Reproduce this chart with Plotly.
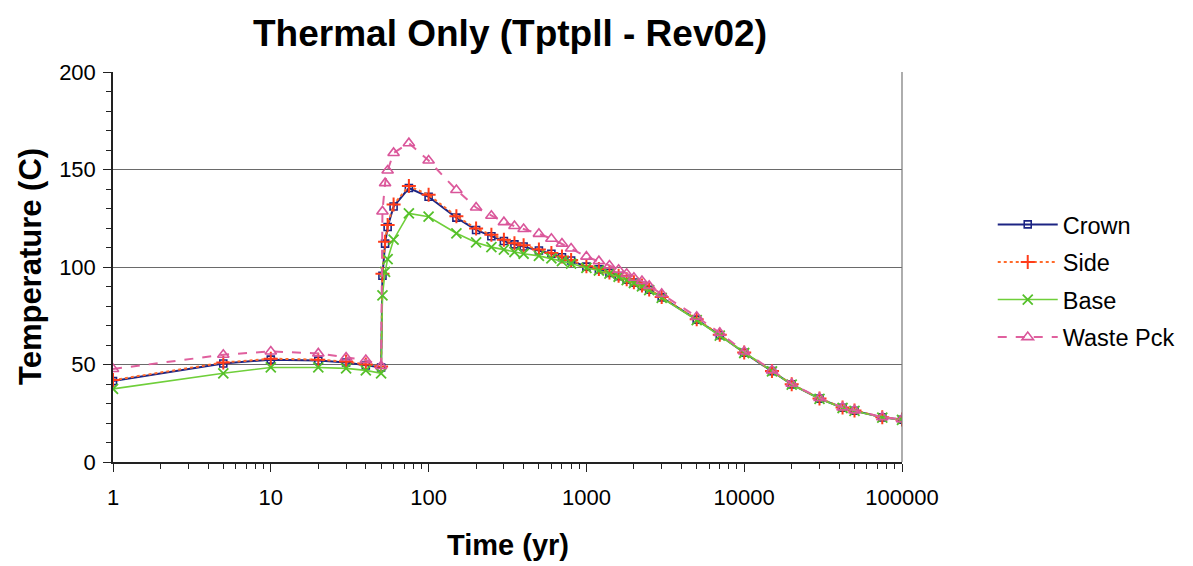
import plotly.graph_objects as go

time_yr = [1, 5, 10, 20, 30, 40, 50, 51, 53, 55, 60, 75, 100, 150, 200, 250, 300, 350, 400,
           500, 600, 700, 800, 1000, 1200, 1400, 1600, 1800, 2000, 2250, 2500, 3000, 5000, 7000,
           10000, 15000, 20000, 30000, 42000, 50000, 75000, 100000]

crown = [41.5, 50.5, 52.5, 52, 51, 49.5, 48.5, 95.5, 112, 120.5, 131, 140.5, 136, 125.3, 119, 115.8,
         113.3, 111.6, 110.5, 108.5, 106.8, 105, 103.3, 100.2, 98.8, 97, 95.3, 93.5, 92, 90.3, 88.3,
         84.4, 73, 65, 56, 46.6, 39.8, 32.5, 27.8, 26.3, 22.9, 21.7]

side = [42, 51, 53, 52.5, 51.5, 50, 49, 96.5, 113, 121.5, 132, 141.5, 137, 126, 119.8, 116.5, 114,
        112.2, 111.1, 109, 107.2, 105.4, 103.6, 100.4, 99, 97.2, 95.5, 93.7, 92.2, 90.5, 88.5, 84.6,
        73.2, 65.2, 56.1, 46.7, 39.9, 32.6, 27.9, 26.4, 23, 21.8]

base = [37.5, 45.5, 48.5, 48.5, 48, 47, 45.5, 85.5, 97.5, 104, 114, 127.5, 125.8, 117.3, 112.6, 110.2,
        108.9, 107.7, 106.8, 105.7, 104.4, 103, 101.8, 99.5, 98.2, 96.6, 95, 93.3, 91.8, 90.1, 88.1,
        84.2, 72.8, 64.8, 55.9, 46.5, 39.7, 32.4, 27.7, 26.2, 22.8, 21.6]

waste_pck = [47.7, 55, 56.7, 55.7, 53.6, 52.3, 49.2, 128.5, 143, 149.5, 158.5, 163.5, 154.6, 139.5,
             130.5, 126.3, 123, 121, 119.5, 117, 114.5, 112, 109.5, 105.3, 103, 100.8, 98.6, 96.5,
             94.5, 92.8, 90.3, 86.2, 74.5, 66.2, 56.7, 47, 40.1, 32.8, 28, 26.5, 23, 21.9]

x_tick_vals = [1, 10, 100, 1000, 10000, 100000]
x_tick_text = ["1", "10", "100", "1000", "10000", "100000"]
y_tick_vals = [0, 50, 100, 150, 200]

FONT = "Liberation Sans, Arial, Helvetica, sans-serif"

series = [
    ("Crown", crown, dict(color="#1c2483", width=2, dash="solid"),
     dict(symbol="square-open", size=7, color="#1c2483", line=dict(width=1.6))),
    ("Side", side, dict(color="#ff6a2a", width=2, dash="dot"),
     dict(symbol="cross-thin-open", size=10, color="#ff3c1a", line=dict(width=2))),
    ("Base", base, dict(color="#6fcf3a", width=1.6, dash="solid"),
     dict(symbol="x-thin-open", size=10, color="#55c02a", line=dict(width=1.8))),
    ("Waste Pck", waste_pck, dict(color="#e0609e", width=2, dash="dash"),
     dict(symbol="triangle-up-open", size=10, color="#d9559a", line=dict(width=1.6))),
]

fig = go.Figure()
for i, (name, vals, ln, mk) in enumerate(series):
    fig.add_trace(go.Scatter(x=time_yr, y=vals, name=name, mode="lines+markers",
                             line=ln, marker=mk, legendgroup=f"g{i}"))

fig.update_layout(
    width=1193, height=566,
    margin=dict(l=113, r=291, t=72, b=104),
    paper_bgcolor="white", plot_bgcolor="white",
    font=dict(family=FONT, color="black", size=22),
    showlegend=True,
    legend=dict(x=1.115, y=0.665, xanchor="left", yanchor="top",
                font=dict(size=23.5, family=FONT), tracegroupgap=4, itemwidth=60,
                bgcolor="rgba(0,0,0,0)"),
    title=dict(text="<b>Thermal Only (Tptpll - Rev02)</b>", x=510 / 1193, xanchor="center",
               xref="container", y=1 - 33 / 566, yanchor="middle", yref="container",
               font=dict(size=37, family=FONT, color="black")),
)

fig.update_xaxes(type="log", range=[0, 5], showgrid=False, zeroline=False,
                 showline=True, linecolor="#222", linewidth=1.5,
                 tickmode="array", tickvals=x_tick_vals, ticktext=x_tick_text,
                 ticks="outside", ticklen=8, tickcolor="#222", tickwidth=1,
                 ticklabelstandoff=7, tickfont=dict(size=22, family=FONT),
                 minor=dict(ticks="outside", ticklen=5, tickcolor="#222", dtick="D1", showgrid=False))

fig.update_yaxes(range=[0, 200], showgrid=True, gridcolor="#6a6a6a", gridwidth=1, zeroline=False,
                 showline=True, linecolor="#222", linewidth=1.5,
                 tickmode="array", tickvals=y_tick_vals,
                 ticks="outside", ticklen=8, tickcolor="#222", tickwidth=1,
                 ticklabelstandoff=3, tickfont=dict(size=22, family=FONT),
                 minor=dict(ticks="outside", ticklen=5, tickcolor="#222", dtick=10, showgrid=False))

fig.add_shape(type="line", xref="paper", yref="paper", x0=1, x1=1, y0=0, y1=1,
              line=dict(color="#777", width=1.2))

fig.add_annotation(text="<b>Temperature (C)</b>", xref="paper", yref="paper",
                   x=(30 - 113) / 789, y=0.5, textangle=-90, showarrow=False,
                   xanchor="center", yanchor="middle", font=dict(size=31, family=FONT))
fig.add_annotation(text="<b>Time (yr)</b>", xref="paper", yref="paper",
                   x=(508 - 113) / 789, y=-(545 - 462) / 390, showarrow=False,
                   xanchor="center", yanchor="middle", font=dict(size=29, family=FONT))

fig.write_html("out.html")
